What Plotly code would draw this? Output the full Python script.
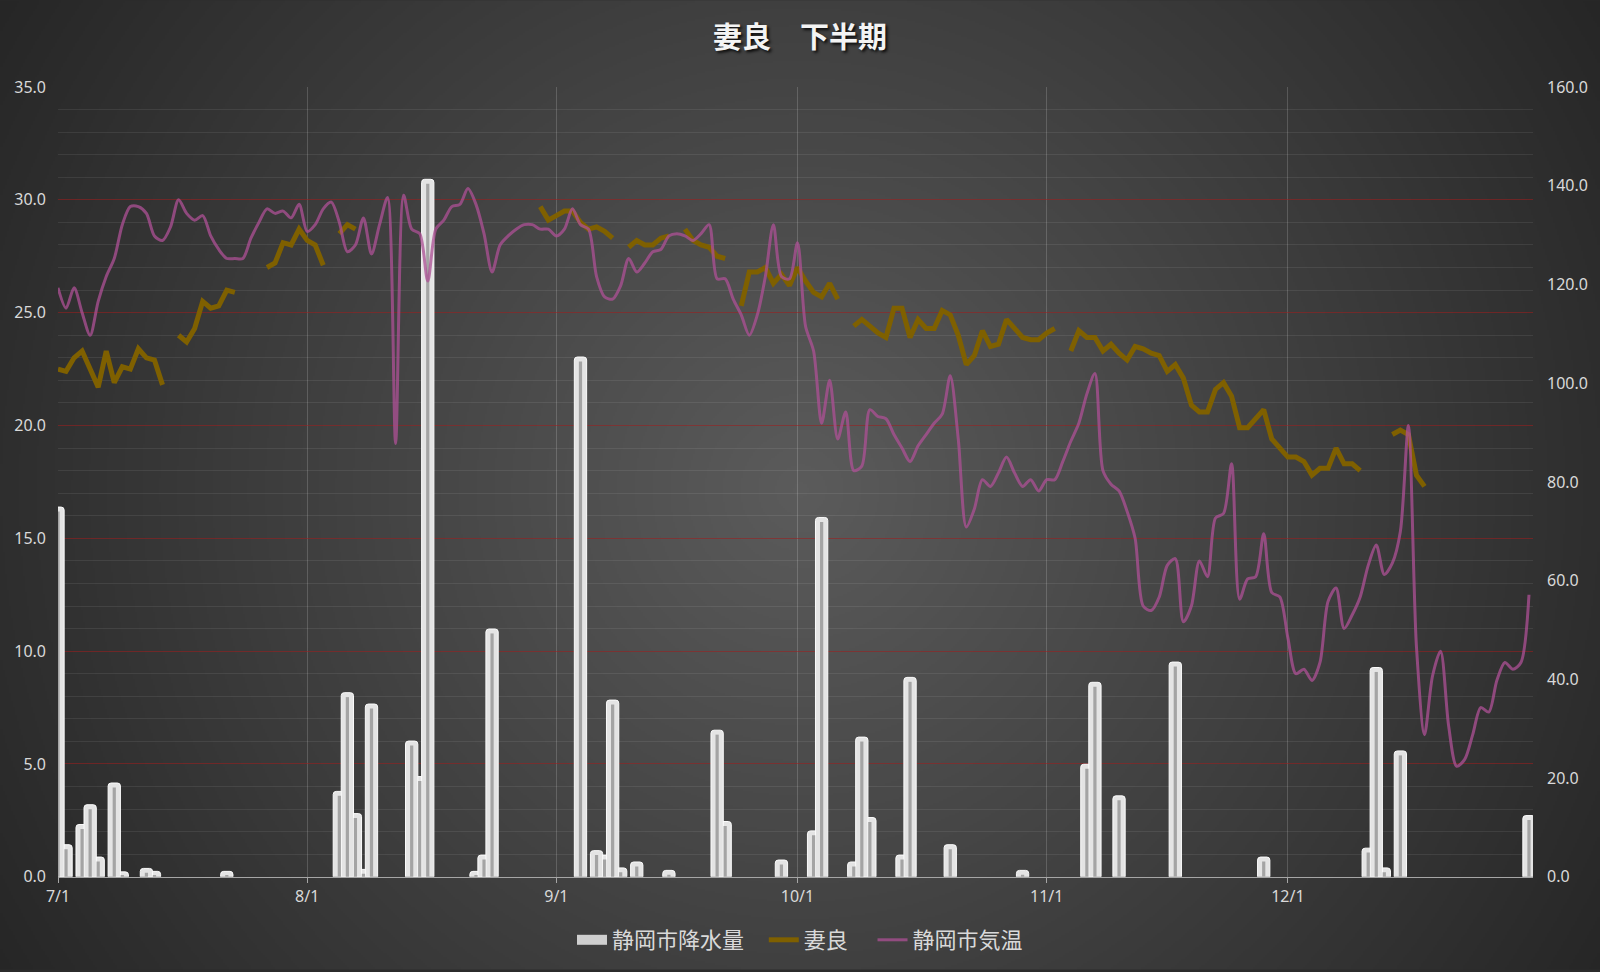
import base64
import struct
import zlib

import numpy as np
import pandas as pd
import plotly.graph_objects as go

# ---------------- data ----------------
dates = pd.date_range('2023-07-01', '2023-12-31', freq='D')

month_ticks = ['2023-07-01', '2023-08-01', '2023-09-01', '2023-10-01', '2023-11-01', '2023-12-01']
month_labels = ['7/1', '8/1', '9/1', '10/1', '11/1', '12/1']

# 静岡市降水量 (mm)
rain_jul = [74.9, 6.5, 0, 10.6, 14.6, 4.0, 0, 19.0, 1.0, 0, 0, 1.7, 1.1, 0, 0, 0,
            0, 0, 0, 0, 0, 1.1, 0, 0, 0, 0, 0, 0, 0, 0, 0]
rain_aug = [0, 0, 0, 0, 17.3, 37.3, 12.8, 1.5, 35.0, 0, 0, 0, 0, 27.5, 20.3, 141.3,
            0, 0, 0, 0, 0, 1.1, 4.4, 50.2, 0, 0, 0, 0, 0, 0, 0]
rain_sep = [0, 0, 0, 105.3, 0, 5.3, 4.4, 35.8, 1.8, 0, 3.0, 0, 0, 0, 1.3, 0,
            0, 0, 0, 0, 29.7, 11.2, 0, 0, 0, 0, 0, 0, 3.4, 0]
rain_oct = [0, 0, 9.3, 72.8, 0, 0, 0, 3.0, 28.3, 12.0, 0, 0, 0, 4.4, 40.4, 0,
            0, 0, 0, 6.5, 0, 0, 0, 0, 0, 0, 0, 0, 1.3, 0, 0]
rain_nov = [0, 0, 0, 0, 0, 22.8, 39.4, 0, 0, 16.4, 0, 0, 0, 0, 0, 0,
            43.5, 0, 0, 0, 0, 0, 0, 0, 0, 0, 0, 4.0, 0, 0]
rain_dec = [0, 0, 0, 0, 0, 0, 0, 0, 0, 0, 5.8, 42.4, 1.8, 0, 25.5, 0,
            0, 0, 0, 0, 0, 0, 0, 0, 0, 0, 0, 0, 0, 0, 12.4]

# 静岡市気温 (°C)
temp_jul = [26.1, 25.2, 26.1, 25.0, 24.0, 25.5, 26.6, 27.4, 28.9, 29.7, 29.7, 29.4, 28.4, 28.2, 28.8, 30.0,
            29.4, 29.1, 29.3, 28.4, 27.8, 27.4, 27.4, 27.4, 28.3, 29.0, 29.6, 29.4, 29.5, 29.2, 29.8]
temp_aug = [28.6, 28.9, 29.6, 29.9, 29.0, 27.7, 28.0, 29.2, 27.6, 28.9, 30.1, 19.2, 30.2, 28.7, 28.5, 26.4,
            28.7, 29.1, 29.7, 29.8, 30.5, 29.8, 28.5, 26.8, 28.0, 28.4, 28.7, 28.9, 28.9, 28.7, 28.7]
temp_sep = [28.4, 28.7, 29.6, 28.9, 28.7, 26.6, 25.7, 25.6, 26.2, 27.4, 26.8, 27.2, 27.7, 27.8, 28.4, 28.5,
            28.4, 28.2, 28.5, 28.9, 26.5, 26.5, 25.6, 24.9, 24.0, 24.9, 26.6, 28.9, 26.6, 26.5]
temp_oct = [28.1, 24.4, 23.3, 20.1, 22.0, 19.4, 20.6, 18.0, 18.2, 20.7, 20.4, 20.3, 19.6, 19.0, 18.4, 19.1,
            19.6, 20.1, 20.5, 22.2, 19.4, 15.5, 16.3, 17.6, 17.3, 17.9, 18.6, 17.9, 17.3, 17.6, 17.1]
temp_nov = [17.6, 17.6, 18.4, 19.3, 20.1, 21.4, 22.3, 18.0, 17.4, 17.1, 16.2, 15.0, 12.0, 11.8, 12.4, 13.8,
            14.1, 11.3, 12.0, 14.0, 13.3, 15.9, 16.1, 18.3, 12.3, 13.2, 13.3, 15.2, 12.6, 12.4]
temp_dec = [10.6, 9.0, 9.2, 8.7, 9.5, 12.2, 12.8, 11.0, 11.6, 12.4, 13.8, 14.7, 13.4, 13.9, 15.3, 20.0,
            10.2, 6.3, 8.9, 10.0, 6.7, 4.9, 5.2, 6.3, 7.5, 7.3, 8.7, 9.5, 9.2, 9.5, 12.5]

# 妻良 (°C), None = 欠測
mera_jul = [22.5, 22.4, 23.0, 23.3, 22.5, 21.7, 23.3, 21.9, 22.6, 22.5, 23.4, 23.0, 22.9, 21.8, None, 24.0,
            23.7, 24.3, 25.5, 25.2, 25.3, 26.0, 25.9, None, None, None, 27.0, 27.2, 28.1, 28.0, 28.7]
mera_aug = [28.2, 28.0, 27.1, None, 28.5, 28.9, 28.7, None, None, None, None, None, None, None, None, None,
            None, None, None, None, None, None, None, None, None, None, None, None, None, 29.7, 29.1]
mera_sep = [29.3, 29.5, 29.5, 29.0, 28.7, 28.8, 28.6, 28.3, None, 27.9, 28.2, 28.0, 28.0, 28.3, 28.4, None,
            28.7, 28.2, 28.0, 27.9, 27.5, 27.4, None, 25.3, 26.8, 26.8, 27.0, 26.3, 26.7, 26.2]
mera_oct = [27.0, 26.4, 25.9, 25.7, 26.3, 25.6, None, 24.4, 24.7, 24.4, 24.1, 23.9, 25.2, 25.2, 23.9, 24.7,
            24.3, 24.3, 25.1, 24.9, 24.0, 22.7, 23.1, 24.2, 23.5, 23.6, 24.7, 24.3, 23.9, 23.8, 23.8]
mera_nov = [24.1, 24.3, None, 23.3, 24.2, 23.9, 23.9, 23.3, 23.6, 23.2, 22.9, 23.5, 23.4, 23.2, 23.1, 22.4,
            22.7, 22.1, 20.9, 20.6, 20.6, 21.6, 21.9, 21.3, 19.9, 19.9, 20.3, 20.7, 19.4, 19.0]
mera_dec = [18.6, 18.6, 18.4, 17.8, 18.1, 18.1, 19.0, 18.3, 18.3, 18.0, None, None, None, 19.6, 19.8, 19.6,
            17.8, 17.3, None, None, None, None, None, None, None, None, None, None, None, None, None]

rain = rain_jul + rain_aug + rain_sep + rain_oct + rain_nov + rain_dec
temp = temp_jul + temp_aug + temp_sep + temp_oct + temp_nov + temp_dec
mera = mera_jul + mera_aug + mera_sep + mera_oct + mera_nov + mera_dec

rain_ticks = [0, 20, 40, 60, 80, 100, 120, 140, 160]

# ---------------- geometry / style ----------------
W, H = 1600, 972
L, R, T, B = 58, 67, 87, 93
PW, PH = W - L - R, H - T - B
DAY_MS = 86400000
NBSP = '\u00a0'


def gradient_png():
    w, h = 800, 486
    ys, xs = np.mgrid[0:h, 0:w]
    d = np.hypot(xs * 2.0 - 800, ys * 2.0 - 490)
    v = 91 - (91 - 37) * np.clip(d / 950.0, 0, 1)
    arr = np.round(v).astype(np.uint8)
    raw = b''.join(b'\x00' + arr[i].tobytes() for i in range(h))

    def chunk(tag, data):
        c = struct.pack('>I', len(data)) + tag + data
        return c + struct.pack('>I', zlib.crc32(tag + data) & 0xffffffff)

    png = (b'\x89PNG\r\n\x1a\n'
           + chunk(b'IHDR', struct.pack('>IIBBBBB', w, h, 8, 0, 0, 0, 0))
           + chunk(b'IDAT', zlib.compress(raw, 9))
           + chunk(b'IEND', b''))
    return 'data:image/png;base64,' + base64.b64encode(png).decode()


tick_font = dict(family='Noto Sans', size=16, color='#d9d9d9')

# bars: taller bars drawn last (on top)
pairs = sorted([(d, v) for d, v in zip(dates, rain) if v > 0], key=lambda p: p[1])
bx = [p[0] for p in pairs]
by = [p[1] for p in pairs]

fig = go.Figure()
fig.add_trace(go.Bar(
    x=bx, y=by, width=1.53 * DAY_MS, yaxis='y', name='静岡市降水量', showlegend=False,
    marker=dict(color='#e4e4e4', line=dict(color='#fbfbfb', width=1), cornerradius=3),
))
fig.add_trace(go.Bar(
    x=bx, y=[max(v - 0.9, 0.2) for v in by], width=0.4 * DAY_MS, yaxis='y',
    marker=dict(color='#a4a4a4', line=dict(width=0)), showlegend=False, hoverinfo='skip',
))
# legend entry for the bars (wide rectangle like the original)
fig.add_trace(go.Scatter(
    x=[None], y=[None], mode='lines', name='静岡市降水量' + NBSP * 3, yaxis='y',
    line=dict(color='#cfcfcf', width=14),
))
fig.add_trace(go.Scatter(
    x=dates, y=mera, mode='lines', name='妻良' + NBSP * 4, yaxis='y2', connectgaps=False,
    line=dict(color='#7f6000', width=5),
))
fig.add_trace(go.Scatter(
    x=dates, y=temp, mode='lines', name='静岡市気温', yaxis='y2',
    line=dict(color='rgba(172,80,148,0.76)', width=3, shape='spline', smoothing=0.8),
))

fig.update_layout(
    width=W, height=H,
    margin=dict(l=L, r=R, t=T, b=B),
    paper_bgcolor='#2b2b2b',
    plot_bgcolor='rgba(0,0,0,0)',
    barmode='overlay',
    showlegend=True,
    title=dict(
        text='妻良　下半期', x=0.5, xref='container', xanchor='center',
        y=1 - 38 / H, yref='container', yanchor='middle',
        font=dict(family='Noto Sans CJK JP', size=29, color='#f4f4f4', weight='bold',
                  shadow='2px 2px 3px rgba(0,0,0,0.85)'),
    ),
    xaxis=dict(
        type='date', range=['2023-07-01', '2023-12-31 12:00'],
        tickvals=month_ticks, ticktext=month_labels,
        showgrid=True, gridcolor='rgba(255,255,255,0.17)', gridwidth=1,
        ticks='outside', ticklen=5, tickcolor='#a6a6a6',
        showline=True, linecolor='#a6a6a6', linewidth=1,
        zeroline=False, tickfont=tick_font,
    ),
    yaxis=dict(
        side='right', range=[0, 160], tickvals=rain_ticks, tickformat='.1f',
        showgrid=False, zeroline=False, showline=False, tickfont=tick_font,
        ticklabelstandoff=13,
    ),
    yaxis2=dict(
        side='left', overlaying='y', range=[0, 35], tickmode='linear', tick0=0, dtick=5,
        tickformat='.1f',
        showgrid=True, gridcolor='rgba(160,30,30,0.55)', gridwidth=1,
        minor=dict(dtick=1, tick0=0, showgrid=True, gridcolor='rgba(255,255,255,0.08)', gridwidth=1),
        zeroline=False, showline=False, tickfont=tick_font,
        ticklabelstandoff=11,
    ),
    legend=dict(
        orientation='h', x=0.5, xref='container', xanchor='center',
        y=1 - 940 / H, yref='container', yanchor='middle',
        font=dict(family='Noto Sans CJK JP', size=22, color='#d9d9d9'),
        bgcolor='rgba(0,0,0,0)',
    ),
    images=[dict(
        source=gradient_png(), xref='paper', yref='paper',
        x=-L / PW, y=1 + T / PH, sizex=W / PW, sizey=H / PH,
        xanchor='left', yanchor='top', sizing='stretch', layer='below',
    )],
)

fig.write_html(
    'out.html',
    config={'displayModeBar': False},
    post_script="document.body.style.margin='0';document.documentElement.style.overflow='hidden';",
)
